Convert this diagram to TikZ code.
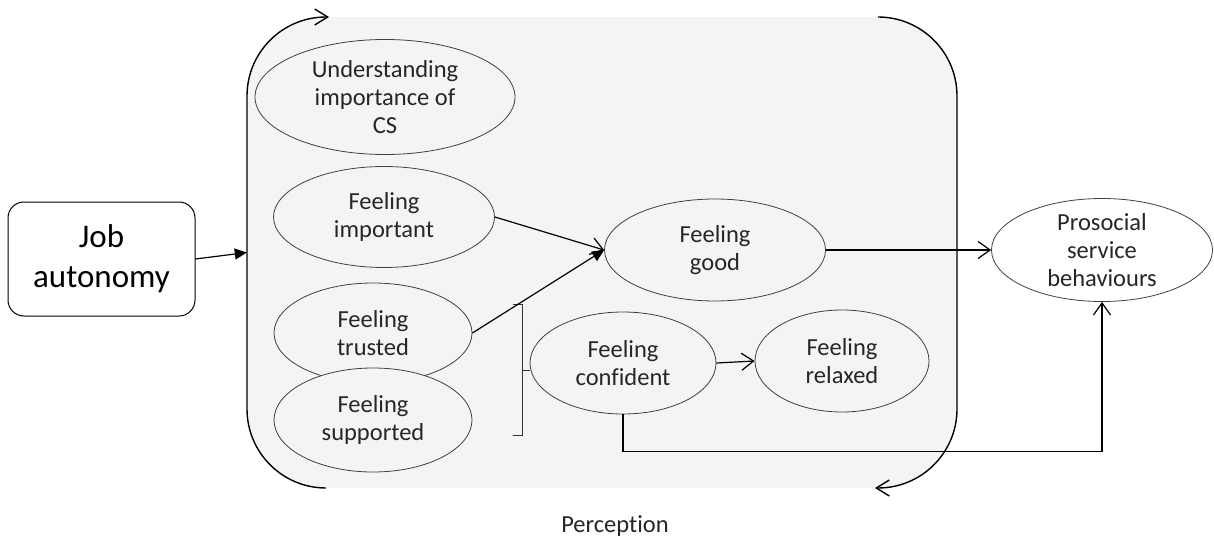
\documentclass[tikz,border=0pt]{standalone}
\usepackage{fontspec}
\setmainfont{Carlito}[Ligatures={NoCommon}]
\usepackage{tikz}
\usetikzlibrary{arrows.meta,shapes}
\usetikzlibrary{positioning}
\definecolor{percgray}{RGB}{244,244,244}
\definecolor{inkgray}{RGB}{38,38,38}
\tikzset{
    feeling/.style={ellipse, draw=black!75, line width=0.8pt, fill=percgray,
        align=center, inner sep=0pt, text=inkgray,
        font=\fontsize{24.5}{28}\selectfont},
    outcome/.style={feeling, fill=white},
    jobbox/.style={draw=black, line width=1pt, rounded corners=16pt, align=center,
        text=black, font=\fontsize{33}{40}\selectfont},
    openlink/.style={draw=black, line width=1.2pt,
        -{Straight Barb[length=12pt,width=17pt,line width=1.2pt]}},
    solidlink/.style={draw=black, line width=1.2pt,
        -{Triangle[length=12pt,width=11pt]}},
    border/.style={draw=black, line width=1.4pt, rounded corners=79pt},
    bracket/.style={draw=black!80, line width=1pt},
}

\begin{document}
\begin{tikzpicture}[x=1pt, y=-1pt]
	\useasboundingbox (0,0) rectangle (1214,556);
	% background of the perception block
	\node[fill=percgray, rounded corners=79pt, minimum width=710pt,
		minimum height=471pt, inner sep=0pt] (perc) at (602,252.5) {};
	\draw[border, -{Straight Barb[length=13pt,width=16pt,line width=1.4pt]}]
		(326,488) -- (247,488) -- (247,17) -- (329,17);
	\draw[border, -{Straight Barb[length=13pt,width=16pt,line width=1.4pt]}]
		(878,17) -- (957,17) -- (957,488) -- (875,488);
	\node[text=inkgray, font=\fontsize{24.5}{28}\selectfont] (perclabel) at (615,526) {Perception};
	% nodes
	\node[jobbox, minimum width=187pt, minimum height=114pt] (job) at (101.5,259) {Job\\autonomy};
	\node[feeling, minimum width=260pt, minimum height=115pt, inner ysep=-3pt] (cs) at (385,97)
		{Understanding\\importance of\\CS};
	\node[feeling, minimum width=221pt, minimum height=101pt] (imp) at (384,217) {Feeling\\important};
	\node[feeling, minimum width=198pt, minimum height=100pt] (trust) at (373,333) {Feeling\\trusted};
	\node[feeling, minimum width=198pt, minimum height=104pt] (supp) at (373,420) {Feeling\\supported};
	\node[feeling, minimum width=221pt, minimum height=102pt] (good) at (715,250) {Feeling\\good};
	\node[feeling, minimum width=186pt, minimum height=102pt] (conf) at (623,363) {Feeling\\confident};
	\node[feeling, minimum width=174pt, minimum height=102pt] (relax) at (842,361) {Feeling\\relaxed};
	\node[outcome, minimum width=221pt, minimum height=103pt, inner ysep=-6pt] (pro) at (1102,250)
		{Prosocial\\service\\behaviours};
	% bracket
	\draw[bracket] (513,304) -- (522,304) -- (522,435) -- (513,435);
	\coordinate (brace) at (522,370);
	\draw[bracket] (brace) -- (brace -| conf.west);
	% links
	\draw[solidlink] (job.east) -- (perc.west);
	\draw[openlink] (imp.east) -- (good.west);
	\draw[solidlink] (trust.east) -- (good.west);
	\draw[openlink] (good.east) -- (pro.west);
	\draw[openlink] (conf.east) -- (relax.west);
	\draw[openlink] (conf.south) -- ++(0,37) -| (pro.south);
\end{tikzpicture}
\end{document}
